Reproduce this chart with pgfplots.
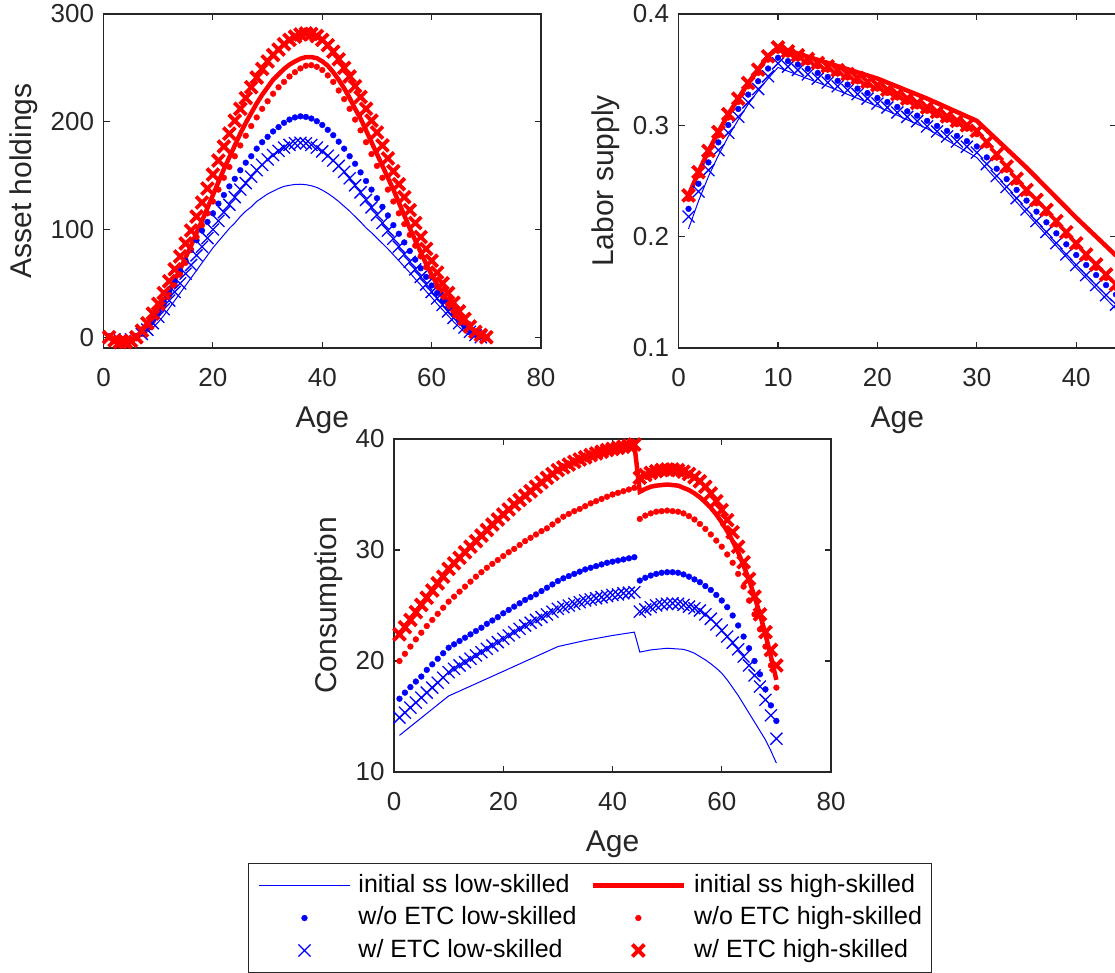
\documentclass[border=0pt]{standalone}
\usepackage{pgfplots}
\pgfplotsset{compat=1.18}
\usepackage{pgfplotstable}
\usepackage{fontspec}
\setmainfont{Liberation Sans}
\definecolor{axgray}{rgb}{0.15,0.15,0.15}
\definecolor{mblue}{rgb}{0,0,1}
\definecolor{mred}{rgb}{1,0,0}

\pgfplotstableread{
x lL lH dL dH xL xH
1 0 0 0 0 0 0
2 -2 -3 -2 -3 -2 -3
3 -3 -4 -3 -4 -3 -4.5
4 -3 -4 -3 -4 -3 -4.5
5 -2 -3 -2 -3 -2 -3.5
6 0 -1 1 -1 0 0
7 2 4 5 3 3 6
8 5 10 11 8 7 13
9 9 17 18 15 13 22
10 14 25 25 22 19 31
11 20 34 33 30 26 41
12 27 43 42 39 34 52
13 34 53 51 48 42 63
14 41 63 61 58 50 75
15 48 74 71 69 59 87
16 55 85 81 81 67 99
17 62 97 90 93 76 112
18 69 108 99 104 84 125
19 76 120 107 115 92 138
20 83 132 115 126 100 151
21 89 144 124 137 108 164
22 95 156 132 148 116 177
23 101 167 140 158 123 189
24 106 178 147 168 130 201
25 112 189 155 178 137 212
26 117 199 162 187 143 222
27 121 208 168 196 149 232
28 126 217 175 204 155 241
29 129.5 225 181 212 160 249
30 133 232 186 219 165 256
31 135.5 239 191 226 169 262
32 138 244 195 232 173 267
33 140 249 199 237 176 272
34 141 253 202 242 178.5 276
35 141.8 256 204 246 180 279
36 142 258.5 205 249.5 180.5 281
37 141.6 260 204.5 252 180 282
38 140.6 260 203 252.5 178.5 281.5
39 139 259 200.5 251 176 279.5
40 136.5 256 197 248 172.5 276
41 133.5 252 192.5 243 168.5 271
42 130 246 187.5 237 164 265
43 126 239 181.5 229 159 258
44 121.5 231 175 221 153.5 250
45 117 222 168 212 147.5 242
46 112 212 161 202 141 233
47 107 203 153 192 134.5 223
48 101.5 192 145 181 127.5 212
49 97 181 137 170 120.5 201
50 92 170 129 159 113.5 190
51 87 159 121 148 106 178
52 82 148 113 137 99 166
53 76.5 137 104 126 91.5 154
54 71 125 96 115 84 142
55 65.5 113 88 105 77 130
56 60 101 80 95 70 118
57 54 90 72 85 63 106
58 48.5 79 64 75 56 93
59 42.5 68 56 65 49 82
60 37 58 48 56 42 71
61 31 49 41 47 36 60
62 25.5 40 34 39 30 50
63 20 32 27 31 24 41
64 14.5 24 21 24 18 32
65 9.5 17 15 17 13 24
66 5 11 10 11 9 17
67 2 6 6 6 5 10
68 0 3 3 3 2 5
69 -1 1 1 1 0 2
70 0 0 0 0 0 0
}\asset

\pgfplotstableread{
x dL dH xL xH
1 0.225 0.234 0.218 0.237
2 0.2475 0.255 0.2405 0.258
3 0.2667 0.274 0.2597 0.277
4 0.2847 0.291 0.2777 0.294
5 0.3003 0.307 0.2933 0.310
6 0.3147 0.321 0.3077 0.324
7 0.3276 0.335 0.3206 0.338
8 0.3396 0.347 0.3326 0.350
9 0.351 0.359 0.344 0.362
10 0.3607 0.367 0.3557 0.370
11 0.3577 0.3635 0.3527 0.3665
12 0.3547 0.360 0.3497 0.363
13 0.3508 0.3565 0.3458 0.3595
14 0.347 0.353 0.342 0.356
15 0.3435 0.350 0.3385 0.353
16 0.340 0.3465 0.335 0.3495
17 0.3366 0.343 0.3316 0.346
18 0.333 0.3395 0.328 0.3425
19 0.329 0.336 0.324 0.339
20 0.3246 0.333 0.3196 0.336
21 0.321 0.329 0.316 0.332
22 0.3165 0.325 0.3115 0.328
23 0.3126 0.321 0.3076 0.324
24 0.3087 0.317 0.3037 0.320
25 0.304 0.313 0.299 0.316
26 0.2995 0.309 0.2945 0.312
27 0.295 0.305 0.290 0.308
28 0.2905 0.301 0.2855 0.304
29 0.2858 0.297 0.2808 0.300
30 0.281 0.292 0.2755 0.295
31 0.2712 0.282 0.2652 0.285
32 0.261 0.271 0.2545 0.274
33 0.2517 0.260 0.2447 0.263
34 0.242 0.249 0.2345 0.252
35 0.2324 0.239 0.2244 0.242
36 0.2225 0.230 0.214 0.233
37 0.2129 0.221 0.2042 0.224
38 0.203 0.211 0.1942 0.214
39 0.1931 0.201 0.1841 0.204
40 0.1835 0.191 0.1745 0.194
41 0.1745 0.181 0.1655 0.184
42 0.1655 0.172 0.1565 0.175
43 0.1565 0.163 0.1475 0.166
44 0.148 0.154 0.139 0.157
}\labor

\pgfplotstableread{
x dL dH xL xH
1 16.6 20.0 14.9 22.4
2 17.15 20.65 15.35 23.05
3 17.65 21.3 15.8 23.7
4 18.15 21.95 16.25 24.4
5 18.6 22.55 16.7 25.05
6 19.2 23.15 17.15 25.7
7 19.7 23.7 17.6 26.35
8 20.2 24.25 18.05 27.0
9 20.7 24.8 18.5 27.6
10 21.2 25.35 19.0 28.3
11 21.5 25.8 19.3 28.8
12 21.8 26.25 19.6 29.3
13 22.1 26.7 19.9 29.8
14 22.4 27.15 20.2 30.3
15 22.7 27.6 20.5 30.8
16 23.0 28.0 20.8 31.3
17 23.35 28.4 21.1 31.8
18 23.65 28.75 21.4 32.3
19 23.95 29.1 21.7 32.75
20 24.3 29.45 22.0 33.2
21 24.6 29.8 22.3 33.65
22 24.9 30.1 22.6 34.1
23 25.2 30.45 22.9 34.5
24 25.5 30.8 23.2 34.9
25 25.75 31.1 23.45 35.3
26 26.0 31.4 23.7 35.7
27 26.3 31.7 23.95 36.1
28 26.6 31.95 24.2 36.5
29 26.9 32.3 24.45 36.85
30 27.2 32.65 24.7 37.2
31 27.45 33.0 24.85 37.45
32 27.65 33.25 25.0 37.7
33 27.85 33.5 25.15 37.95
34 28.05 33.7 25.3 38.15
35 28.25 33.95 25.45 38.35
36 28.4 34.2 25.55 38.55
37 28.55 34.4 25.65 38.7
38 28.7 34.6 25.75 38.85
39 28.85 34.8 25.85 39.0
40 28.95 35.0 25.95 39.1
41 29.05 35.15 26.0 39.2
42 29.15 35.3 26.1 39.3
43 29.25 35.45 26.15 39.4
44 29.35 35.6 26.2 39.5
45 27.25 32.8 24.45 36.5
46 27.5 33.1 24.65 36.75
47 27.7 33.3 24.85 36.95
48 27.85 33.45 25.0 37.1
49 27.95 33.5 25.1 37.2
50 28.0 33.55 25.15 37.25
51 28.0 33.5 25.2 37.25
52 27.95 33.45 25.15 37.2
53 27.8 33.3 25.05 37.05
54 27.6 33.05 24.9 36.85
55 27.35 32.75 24.75 36.55
56 27.1 32.35 24.55 36.2
57 26.75 31.9 24.2 35.7
58 26.4 31.4 23.8 35.1
59 25.95 30.85 23.3 34.4
60 25.45 30.3 22.75 33.6
61 24.85 29.6 22.2 32.7
62 24.1 28.85 21.65 31.6
63 23.2 27.85 21.05 30.3
64 22.2 26.7 20.4 28.9
65 21.15 25.45 19.6 27.4
66 20.0 24.2 18.7 25.8
67 18.8 22.85 17.7 24.2
68 17.45 21.3 16.5 22.6
69 16.0 19.6 15.1 21.0
70 14.6 17.6 13.0 19.6
}\cons

\pgfplotsset{
  mstyle/.style={
    scale only axis,
    axis line style={axgray, line width=1.1pt},
    every tick/.style={axgray, line width=1.1pt},
    tick align=inside, major tick length=6pt,
    tick label style={font=\fontsize{26}{30}\selectfont, text=axgray},
    xticklabel style={yshift=-17pt},
    yticklabel style={xshift=-6pt},
    label style={font=\fontsize{30}{34}\selectfont, text=axgray},
    xlabel style={yshift=-13pt},
    ylabel style={yshift=6pt},
    /pgf/number format/assume math mode=true,
    clip=false,
  },
  linelegend/.style={legend image code/.code={\draw[##1] (0pt,0pt) -- (91pt,0pt);}},
  marklegend/.style={legend image code/.code={\draw[mark repeat=2,mark phase=2,##1] plot coordinates {(0pt,0pt) (45.5pt,0pt) (91pt,0pt)};}},
  sLineL/.style={mblue, line width=1pt, mark=none, linelegend},
  sLineH/.style={mred, line width=4.5pt, mark=none, linelegend},
  sDotL/.style={only marks, mark=*, mark size=2.9pt, color=mblue, mark options={line width=0.4pt}, marklegend},
  sDotH/.style={only marks, mark=*, mark size=2.9pt, color=mred, mark options={line width=0.4pt}, marklegend},
  sXL/.style={only marks, mark=x, mark size=8.5pt, color=mblue, mark options={line width=1.3pt}, marklegend},
  sXH/.style={only marks, mark=x, mark size=8.5pt, color=mred, mark options={line width=3.8pt}, marklegend},
}

\begin{document}
\begin{tikzpicture}
\useasboundingbox (0,0) rectangle (1115pt,972pt);

\begin{axis}[mstyle, width=437.4pt, height=334pt,
  at={(103.6pt,624pt)}, anchor=south west,
  xmin=0, xmax=80, ymin=-10, ymax=300,
  xtick={0,20,40,60,80}, ytick={0,100,200,300},
  xlabel={Age}, ylabel={Asset holdings}]
\addplot[sLineL] table[x=x,y=lL]{\asset};
\addplot[sLineH] table[x=x,y=lH]{\asset};
\addplot[sDotL] table[x=x,y=dL]{\asset};
\addplot[sDotH] table[x=x,y=dH]{\asset};
\addplot[sXL] table[x=x,y=xL]{\asset};
\addplot[sXH] table[x=x,y=xH]{\asset};
\end{axis}

\begin{axis}[mstyle, width=437.4pt, height=334pt,
  at={(678.6pt,624pt)}, anchor=south west,
  xmin=0, xmax=44, ymin=0.1, ymax=0.4,
  xtick={0,10,20,30,40}, ytick={0.1,0.2,0.3,0.4},
  yticklabel style={/pgf/number format/fixed, /pgf/number format/precision=1, /pgf/number format/fixed zerofill},
  xlabel={Age}, ylabel={Labor supply}]
\addplot[sLineL] coordinates {(1,0.207)(2,0.232)(3,0.254)(4,0.273)(5,0.290)(6,0.305)(7,0.319)(8,0.331)(9,0.342)(10,0.352)(15,0.335)(20,0.317)(25,0.297)(30,0.271)(35,0.221)(40,0.172)(44,0.135)};
\addplot[sLineH] coordinates {(1,0.237)(2,0.258)(3,0.277)(4,0.294)(5,0.310)(6,0.324)(7,0.338)(8,0.350)(9,0.362)(10,0.370)(15,0.356)(20,0.342)(25,0.324)(30,0.304)(35,0.262)(40,0.217)(44,0.183)};
\addplot[sDotL] table[x=x,y=dL]{\labor};
\addplot[sDotH] table[x=x,y=dH]{\labor};
\addplot[sXL] table[x=x,y=xL]{\labor};
\addplot[sXH] table[x=x,y=xH]{\labor};
\end{axis}

\begin{axis}[mstyle, width=437pt, height=333pt,
  at={(394pt,200pt)}, anchor=south west,
  xmin=0, xmax=80, ymin=10, ymax=40,
  xtick={0,20,40,60,80}, ytick={10,20,30,40},
  xlabel={Age}, ylabel={Consumption},
  legend columns=2,
  legend cell align=left,
  legend style={at={(axis description cs:-0.3341,-0.2733)}, anchor=north west,
    draw=axgray, line width=1pt, fill=white,
    font=\fontsize{25}{30}\selectfont,
    inner xsep=10pt, inner ysep=10.5pt,
    row sep=9.5pt,
    nodes={inner sep=0pt, text height=18pt, text depth=5pt},
    /tikz/every odd column/.style={column sep=8pt},
    /tikz/every even column/.style={column sep=14pt}},
  ]
\addplot[sLineL] coordinates {(1,13.3)(10,16.85)(20,19.07)(30,21.3)(35,21.85)(40,22.3)(44,22.6)(45,20.8)(47,21.0)(50,21.15)(53,21.05)(54,20.9)(55,20.7)(56,20.4)(57,20.1)(58,19.75)(59,19.35)(60,18.9)(61,18.3)(62,17.6)(63,16.9)(64,16.1)(65,15.3)(66,14.5)(67,13.7)(68,12.9)(69,11.9)(70,10.8)};
\addlegendentry{initial ss low-skilled}
\addplot[sLineH] coordinates {(1,22.4)(3,23.7)(5,25.05)(7,26.35)(10,28.3)(15,30.8)(20,33.2)(25,35.3)(30,37.2)(35,38.35)(40,39.1)(44,39.5)(45,35.25)(46,35.5)(47,35.7)(48,35.8)(49,35.85)(50,35.9)(51,35.85)(52,35.8)(53,35.6)(54,35.4)(55,35.1)(56,34.75)(57,34.3)(58,33.8)(59,33.2)(60,32.5)(61,31.7)(62,30.8)(63,29.8)(64,28.6)(65,27.3)(66,25.8)(67,24.2)(68,22.4)(69,20.4)(70,18.3)};
\addlegendentry{initial ss high-skilled}
\addplot[sDotL] table[x=x,y=dL]{\cons};
\addlegendentry{w/o ETC low-skilled}
\addplot[sDotH] table[x=x,y=dH]{\cons};
\addlegendentry{w/o ETC high-skilled}
\addplot[sXL] table[x=x,y=xL]{\cons};
\addlegendentry{w/ ETC low-skilled}
\addplot[sXH] table[x=x,y=xH]{\cons};
\addlegendentry{w/ ETC high-skilled}
\end{axis}
\end{tikzpicture}
\end{document}
